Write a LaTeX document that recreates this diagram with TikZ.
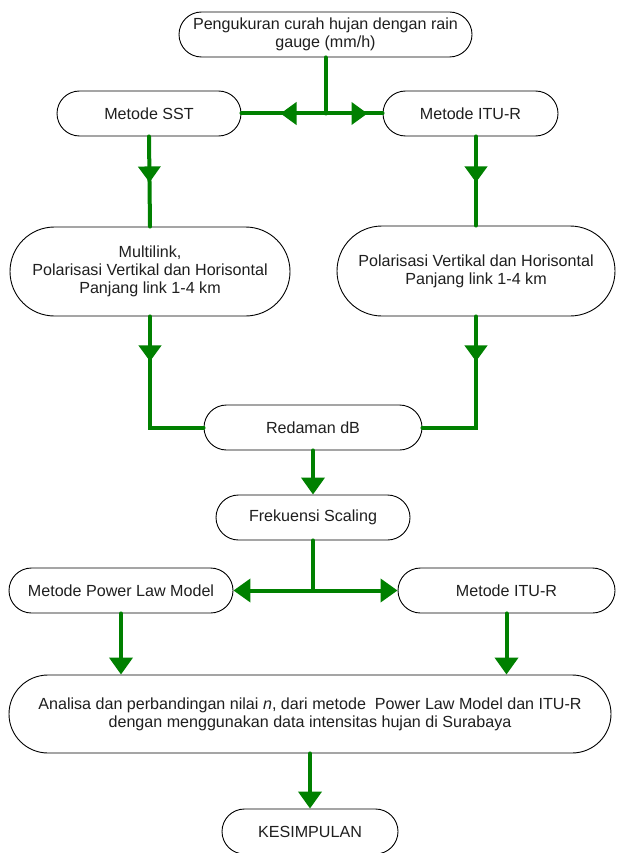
\documentclass[tikz,border=0pt]{standalone}
\usepackage{fontspec}
\setmainfont{Liberation Sans}
\usetikzlibrary{arrows.meta,decorations.markings,calc}
\definecolor{gr}{RGB}{0,128,0}
\begin{document}
\begin{tikzpicture}[x=1pt,y=-1pt,
  box/.style={draw=black, line width=0.9pt, fill=white, inner sep=0pt, align=center,
    font=\fontsize{16.1}{18}\selectfont, text=black!88},
  pill/.style={box, minimum height=45pt, rounded corners=22.5pt, minimum width=#1},
  gline/.style={color=gr, line width=4pt, line cap=round},
  tip/.style={-{Triangle[length=17pt,width=23pt]}},
  midarrow/.style={postaction={decorate}, decoration={markings,
    mark=at position #1 with {\arrow{Triangle[length=16pt,width=22pt]}}}}
]
\path[use as bounding box, clip] (0,0) rectangle (616,853);

\node[pill=293pt] (top) at (325.5,34.5) {Pengukuran curah hujan dengan rain\\gauge (mm/h)};
\node[pill=184pt] (sst) at (149,113.5) {Metode SST};
\node[pill=175pt] (itua) at (470.5,113.5) {Metode ITU-R};
\node[box, minimum width=280pt, minimum height=89pt, rounded corners=44.5pt] (multi) at (150,271.5)
  {Multilink,\\Polarisasi Vertikal dan Horisontal\\Panjang link 1-4 km};
\node[box, minimum width=278pt, minimum height=90pt, rounded corners=45pt] (polar) at (476,271)
  {Polarisasi Vertikal dan Horisontal\\Panjang link 1-4 km};
\node[pill=218pt] (red) at (313,427.5) {Redaman dB};
\node[pill=194pt] (frek) at (313,517.5) {Frekuensi Scaling};
\node[pill=224pt] (power) at (121,590.5) {Metode Power Law Model};
\node[pill=217pt] (itub) at (506.5,590.5) {Metode ITU-R};
\node[box, minimum width=602pt, minimum height=78pt, rounded corners=39pt] (ana) at (310,714)
  {Analisa dan perbandingan nilai \textit{n}, dari metode\ \ Power Law Model dan ITU-R\\dengan menggunakan data intensitas hujan di Surabaya};
\node[pill=176pt] (kes) at (310,831.5) {KESIMPULAN};

\coordinate (j1) at (top.south |- sst.east);
\draw[gline] (top.south) -- (j1);
\draw[gline, midarrow=45pt] (j1) -- (sst.east);
\draw[gline, midarrow=42pt] (j1) -- (itua.west);
\draw[gline, midarrow=46pt] (sst.south) -- (multi.north);
\draw[gline, midarrow=46pt] (polar.north |- itua.south) -- (polar.north);
\draw[gline, midarrow=45pt] (multi.south) |- (red.west);
\draw[gline, midarrow=45pt] (polar.south) |- (red.east);
\draw[gline, tip] (red.south) -- (frek.north);
\coordinate (j2) at (frek.south |- power.east);
\draw[gline] (frek.south) -- (j2);
\draw[gline, tip] (j2) -- (power.east);
\draw[gline, tip] (j2) -- (itub.west);
\draw[gline, tip] (power.south) -- (power.south |- ana.north);
\draw[gline, tip] (itub.south) -- (itub.south |- ana.north);
\draw[gline, tip] (ana.south) -- (kes.north);
\end{tikzpicture}
\end{document}
